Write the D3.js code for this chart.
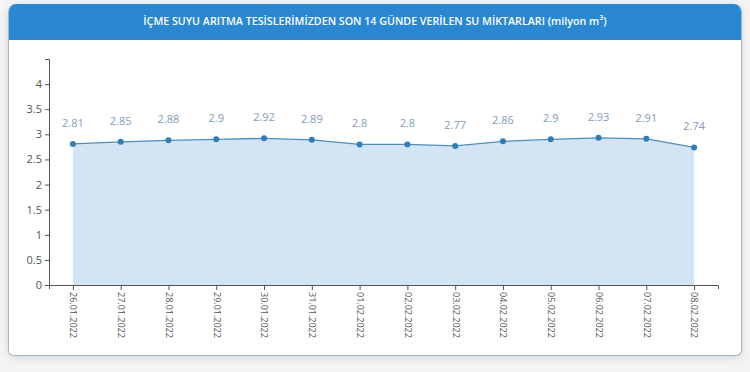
<!DOCTYPE html>
<html>
<head>
<meta charset="utf-8">
<script src="https://cdn.jsdelivr.net/npm/d3@7"></script>
<style>
  html, body { margin: 0; padding: 0; background: #f4f4f5; }
  #card {
    position: absolute; left: 8px; top: 4px; width: 732px; height: 351px;
    background: #fff; border: 1px solid #9fb8cc; border-top: none;
    border-radius: 8px 8px 6px 6px; box-shadow: 0 2px 8px rgba(0,0,0,0.12);
    overflow: hidden;
  }
  #head {
    height: 36px; background: #2a88d3; color: #fff;
    font: 600 10.7px "Open Sans", sans-serif; text-align: center; line-height: 35px;
  }
  #head sup { font-size: 7px; line-height: 0; }
  #chart { position: absolute; left: 0; top: 0; }
</style>
</head>
<body>
<div id="card"><div id="head">İÇME SUYU ARITMA TESİSLERİMİZDEN SON 14 GÜNDE VERİLEN SU MİKTARLARI (milyon m<sup>3</sup>)</div></div>
<svg id="chart" width="750" height="372"></svg>
<script>
const dates = ["26.01.2022", "27.01.2022", "28.01.2022", "29.01.2022", "30.01.2022", "31.01.2022", "01.02.2022",
  "02.02.2022", "03.02.2022", "04.02.2022", "05.02.2022", "06.02.2022", "07.02.2022", "08.02.2022"];
const values = [2.81, 2.85, 2.88, 2.9, 2.92, 2.89, 2.8, 2.8, 2.77, 2.86, 2.9, 2.93, 2.91, 2.74];
const yTicks = [0, 0.5, 1, 1.5, 2, 2.5, 3, 3.5, 4];

const svg = d3.select("#chart");
const mLeft = 49, mRight = 718, mTop = 59, mBottom = 285;

const x = d3.scalePoint().domain(dates).range([mLeft, mRight]).padding(0.5);
const y = d3.scaleLinear().domain([0, 4.5]).range([mBottom, mTop]);

const data = dates.map((d, i) => ({ d, v: values[i] }));

// alan
svg.append("path")
  .datum(data)
  .attr("fill", "#d3e5f4")
  .attr("d", d3.area().x(p => x(p.d)).y0(y(0)).y1(p => y(p.v)));

// çizgi
svg.append("path")
  .datum(data)
  .attr("fill", "none")
  .attr("stroke", "#4b90c4")
  .attr("stroke-width", 1.3)
  .attr("d", d3.line().x(p => x(p.d)).y(p => y(p.v)));

svg.selectAll("circle.pt")
  .data(data)
  .join("circle")
  .attr("class", "pt")
  .attr("cx", p => x(p.d))
  .attr("cy", p => y(p.v))
  .attr("r", 3)
  .attr("fill", "#2f7db9");

svg.selectAll("text.val")
  .data(data)
  .join("text")
  .attr("class", "val")
  .attr("x", p => x(p.d))
  .attr("y", p => y(p.v) - 17)
  .attr("text-anchor", "middle")
  .attr("fill", "#7f9dbb")
  .style("font", "11px 'Open Sans', sans-serif")
  .text(p => p.v);

// eksenler
const yAxis = svg.append("g")
  .attr("transform", `translate(${mLeft},0)`)
  .call(d3.axisLeft(y).tickValues(yTicks).tickSize(4).tickSizeOuter(4).tickFormat(d3.format("")));

const xAxis = svg.append("g")
  .attr("transform", `translate(0,${mBottom})`)
  .call(d3.axisBottom(x).tickSize(5).tickSizeOuter(4));

[yAxis, xAxis].forEach(g => {
  g.select(".domain").attr("stroke", "#555");
  g.selectAll(".tick line").attr("stroke", "#555");
  g.selectAll("text").attr("fill", "#555").style("font-family", "'Open Sans', sans-serif");
});
yAxis.selectAll("text").style("font-size", "11px");

xAxis.selectAll("text")
  .style("font-size", "9px")
  .attr("transform", "rotate(90)")
  .attr("x", 7)
  .attr("y", 0)
  .attr("dy", "0.35em")
  .attr("text-anchor", "start");
</script>
</body>
</html>
